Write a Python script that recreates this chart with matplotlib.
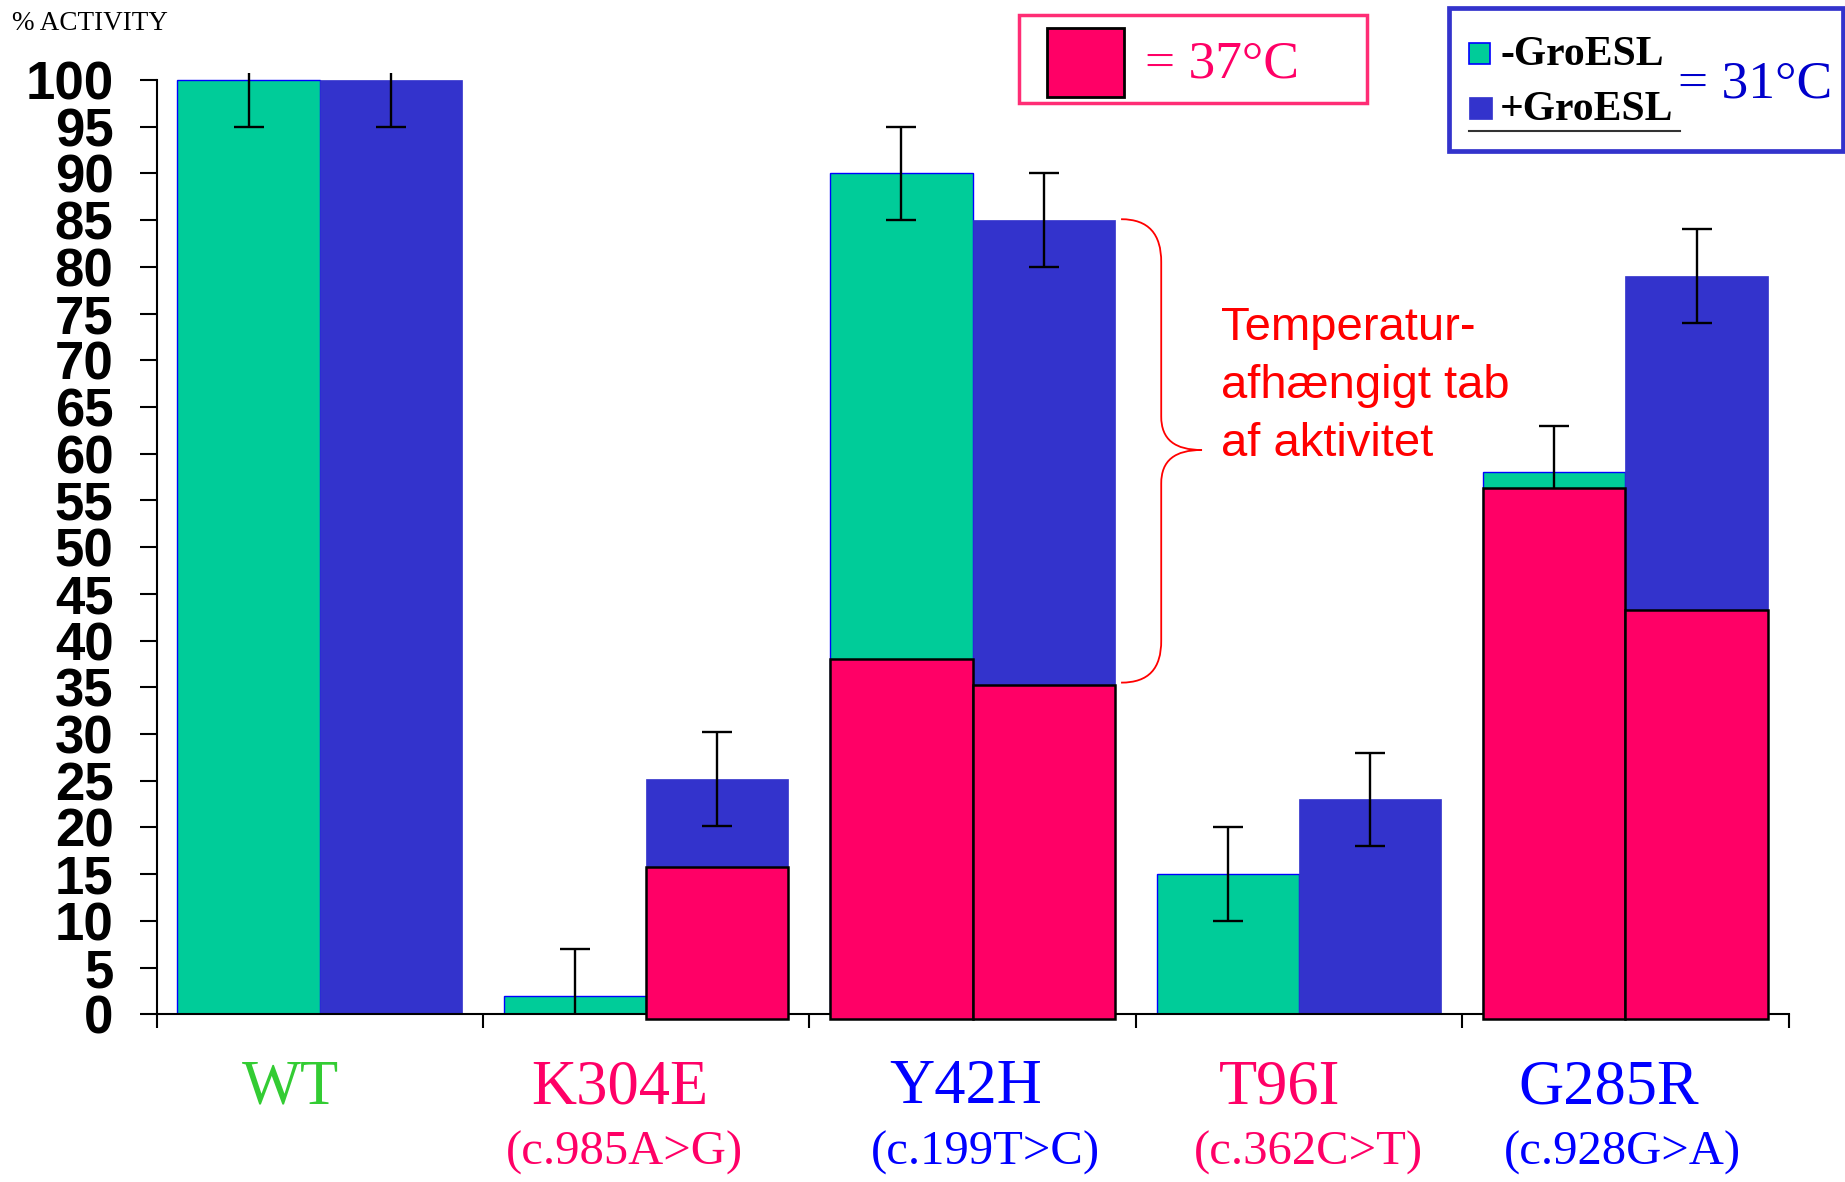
import numpy as np
import matplotlib.pyplot as plt
from matplotlib.patches import Rectangle, PathPatch
from matplotlib.path import Path
from matplotlib.lines import Line2D
import matplotlib.transforms as mtransforms

# Data
mutants = ['WT', 'K304E', 'Y42H', 'T96I', 'G285R']
variants = ['', '(c.985A>G)', '(c.199T>C)', '(c.362C>T)', '(c.928G>A)']
label_colors = ['#33CC33', '#FF0066', '#0000FF', '#FF0066', '#0000FF']

minus_groesl = [100, 2, 90, 15, 58]      # 31°C, -GroESL
plus_groesl = [100, 25.2, 85, 23, 79]    # 31°C, +GroESL
minus_err = [5, 5, 5, 5, 5]
plus_err = [5, 5, 5, 5, 5]
minus_37 = [np.nan, np.nan, 38, np.nan, 56.3]   # 37°C
plus_37 = [np.nan, 15.8, 35.2, np.nan, 43.3]

yticks = list(range(0, 101, 5))

# label nudges (in category units), the original labels are not quite centred
name_shift = [-0.09, -0.08, -0.02, -0.06, -0.05]
var_shift = [0, -0.065, 0.04, 0.03, -0.01]

GREEN = '#00CC99'
BLUE = '#3333CC'
PINK = '#FF0066'

serif = 'Liberation Serif'
sans = 'Liberation Sans'

W, H = 1845, 1182
fig = plt.figure(figsize=(W / 100, H / 100), dpi=100)

def fx(px):
    return px / W

def fy(py):
    return 1 - py / H

# axes: x from 156.5 to 1788.6 px, y=0 at 1014.3 px, y=100 at 80 px
ytop = 100.7
ppu = (1014.3 - 80) / 100
ax = fig.add_axes([fx(156.5), fy(1014.3), fx(1788.6) - fx(156.5),
                   ytop * ppu / H])

x = np.arange(len(mutants)) + 0.5
w = 0.436

ax.bar(x - w / 2, minus_groesl, w, color=GREEN, edgecolor='#0000FF',
       linewidth=1.0, zorder=2)
ax.bar(x + w / 2, plus_groesl, w, color=BLUE, edgecolor=BLUE,
       linewidth=0.5, zorder=2)

ax.errorbar(x - w / 2, minus_groesl, yerr=minus_err, fmt='none',
            ecolor='black', elinewidth=1.7, capsize=11, capthick=1.7, zorder=3)
ax.errorbar(x + w / 2, plus_groesl, yerr=plus_err, fmt='none',
            ecolor='black', elinewidth=1.7, capsize=11, capthick=1.7, zorder=3)

m37 = np.array(minus_37)
p37 = np.array(plus_37)
ax.bar(x - w / 2, m37 + 0.5, w, bottom=-0.5, color=PINK, edgecolor='black',
       linewidth=1.8, zorder=4, clip_on=False)
ax.bar(x + w / 2, p37 + 0.5, w, bottom=-0.5, color=PINK, edgecolor='black',
       linewidth=1.8, zorder=4, clip_on=False)

ax.set_xlim(0, len(mutants))
ax.set_ylim(0, ytop)
ax.spines['top'].set_visible(False)
ax.spines['right'].set_visible(False)
ax.spines['left'].set_bounds(0, 100)
for s in ['left', 'bottom']:
    ax.spines[s].set_linewidth(1.5)
ax.set_xticks(np.arange(len(mutants) + 1))
ax.set_xticklabels([])
ax.tick_params(axis='x', direction='out', length=10, width=1.5)
ax.set_yticks(yticks)
ax.set_yticklabels([str(v) for v in yticks], fontfamily=sans,
                   fontweight='bold', fontsize=38)
ax.tick_params(axis='y', direction='out', length=12, width=1.5, pad=19)

# curly bracket
bx0, bx1, bx2 = 2.955, 3.078, 3.203
verts = [(bx0, 85.1), (3.04, 85.1), (bx1, 83.5), (bx1, 80.5),
         (bx1, 64.0),
         (bx1, 61.5), (3.12, 60.4), (bx2, 60.4),
         (3.12, 60.4), (bx1, 59.3), (bx1, 56.8),
         (bx1, 40.0),
         (bx1, 37.0), (3.04, 35.5), (bx0, 35.5)]
codes = [Path.MOVETO, Path.CURVE4, Path.CURVE4, Path.CURVE4,
         Path.LINETO,
         Path.CURVE4, Path.CURVE4, Path.CURVE4,
         Path.CURVE4, Path.CURVE4, Path.CURVE4,
         Path.LINETO,
         Path.CURVE4, Path.CURVE4, Path.CURVE4]
ax.add_patch(PathPatch(Path(verts, codes), facecolor='none',
                       edgecolor='#FF0000', linewidth=1.3, clip_on=False))

note = ['Temperatur-', 'afhængigt tab', 'af aktivitet']
for i, line in enumerate(note):
    ax.text(3.262, 72.2 - 6.2 * i, line, color='#FF0000', fontfamily=sans,
            fontsize=34, va='baseline', ha='left')

# category labels
trans = mtransforms.blended_transform_factory(ax.transData, fig.transFigure)
for i, (xi, name, var, c) in enumerate(zip(x, mutants, variants, label_colors)):
    ax.text(xi + name_shift[i], fy(1103), name, transform=trans, color=c,
            fontfamily=serif, fontsize=45, ha='center', va='baseline')
    if var:
        ax.text(xi + var_shift[i], fy(1165), var, transform=trans, color=c,
                fontfamily=serif, fontsize=35, ha='center', va='baseline')

fig.text(fx(12), fy(30), '% ACTIVITY', fontfamily=serif, fontsize=19.5,
         va='baseline', ha='left')

# 37°C legend box
fig.add_artist(Rectangle((fx(1019), fy(103)), fx(1367) - fx(1019),
                         fy(15) - fy(103), transform=fig.transFigure,
                         facecolor='white', edgecolor='#FF2D75', linewidth=2.5))
fig.add_artist(Rectangle((fx(1047), fy(97)), fx(1124) - fx(1047),
                         fy(28) - fy(97), transform=fig.transFigure,
                         facecolor=PINK, edgecolor='black', linewidth=2))
fig.text(fx(1145), fy(77), '= 37°C', color=PINK, fontfamily=serif,
         fontsize=38.5, va='baseline', ha='left')

# 31°C legend box
fig.add_artist(Rectangle((fx(1449), fy(151)), fx(1843) - fx(1449),
                         fy(8) - fy(151), transform=fig.transFigure,
                         facecolor='white', edgecolor=BLUE, linewidth=3.4))
fig.add_artist(Rectangle((fx(1469), fy(64)), fx(1490) - fx(1469),
                         fy(43) - fy(64), transform=fig.transFigure,
                         facecolor=GREEN, edgecolor='#0000FF', linewidth=1.2))
fig.add_artist(Rectangle((fx(1469), fy(119)), fx(1492) - fx(1469),
                         fy(97) - fy(119), transform=fig.transFigure,
                         facecolor=BLUE, edgecolor=BLUE, linewidth=0.5))
fig.text(fx(1500), fy(65), '-GroESL', fontfamily=serif, fontweight='bold',
         fontsize=30, va='baseline', ha='left')
fig.text(fx(1500), fy(120), '+GroESL', fontfamily=serif, fontweight='bold',
         fontsize=30, va='baseline', ha='left')
fig.add_artist(Line2D([fx(1469), fx(1680)], [fy(131), fy(131)],
                      transform=fig.transFigure, color='#333333', linewidth=1.5))
fig.text(fx(1678), fy(98), '= 31°C', color='#0000CC', fontfamily=serif,
         fontsize=38.5, va='baseline', ha='left')

fig.savefig('out.png', dpi=100)
